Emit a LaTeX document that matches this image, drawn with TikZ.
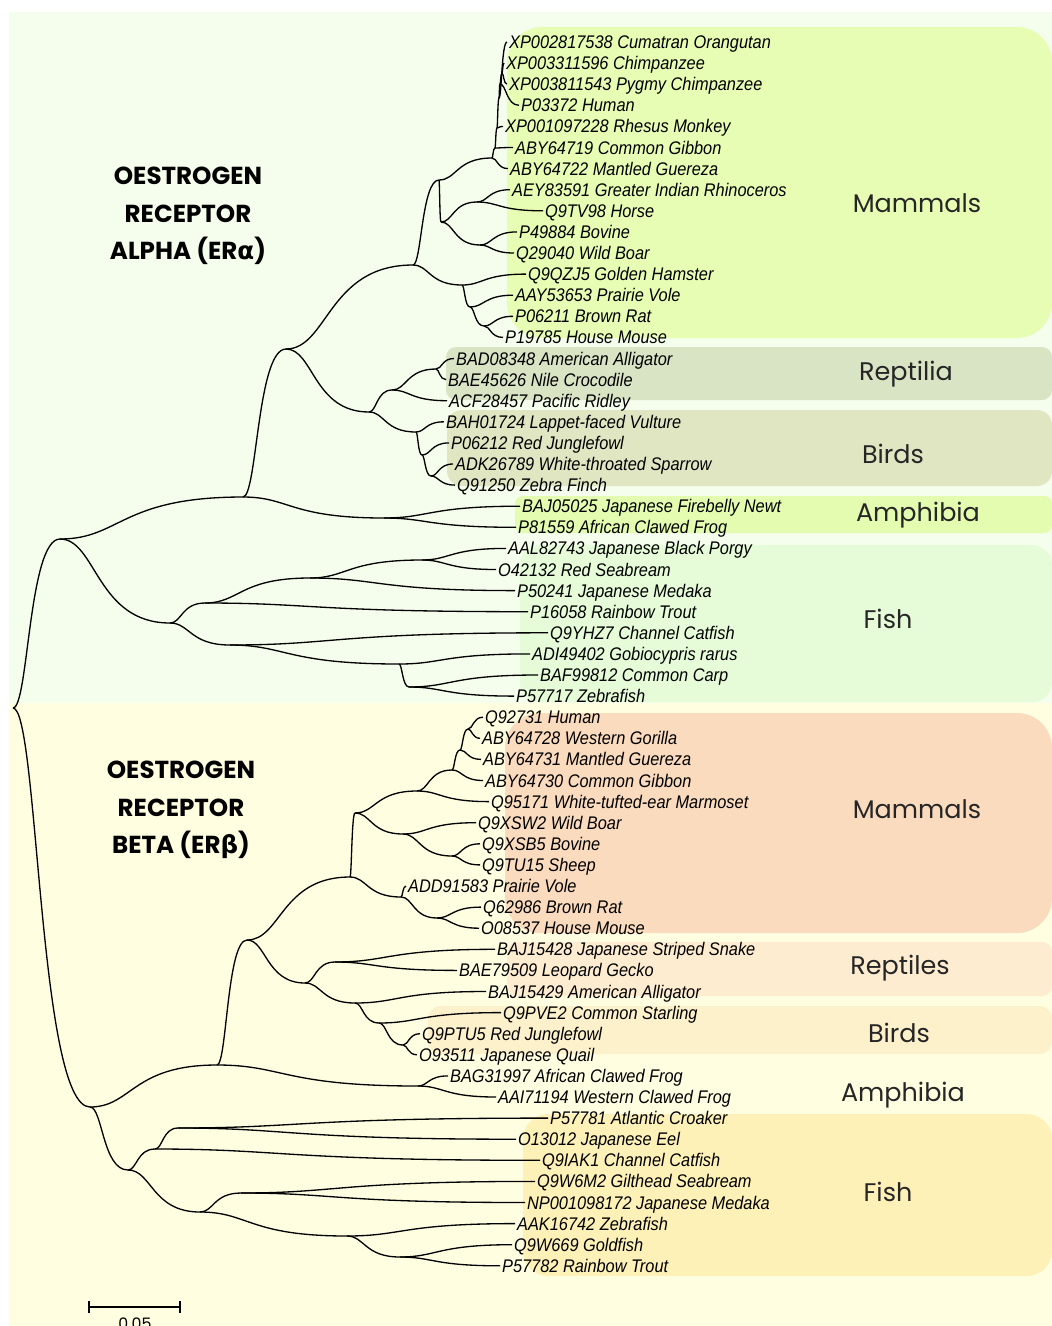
\documentclass[tikz,border=0pt]{standalone}
\usepackage{fontspec}
\usepackage{tikz}
\usetikzlibrary{calc}
\newfontfamily\leaffont[FakeStretch=0.895]{Liberation Sans}
\newfontfamily\groupfont{Poppins}
\newfontfamily\greekfont{DejaVu Sans}
\definecolor{panelalpha}{HTML}{F5FEEC}
\definecolor{panelbeta}{HTML}{FFFEE0}
\definecolor{mammalsA}{HTML}{E8FDB4}
\definecolor{reptiliaA}{HTML}{D8E4C4}
\definecolor{birdsA}{HTML}{E0E6C2}
\definecolor{amphibiaA}{HTML}{E4FCB0}
\definecolor{fishA}{HTML}{E6FCD8}
\definecolor{mammalsB}{HTML}{FADBBE}
\definecolor{reptilesB}{HTML}{FDECD0}
\definecolor{birdsB}{HTML}{FDF1CC}
\definecolor{fishB}{HTML}{FDF1B8}
\pgfdeclarelayer{boxlayer}
\pgfdeclarelayer{edgelayer}
\pgfdeclarelayer{nodelayer}
\pgfsetlayers{boxlayer,edgelayer,nodelayer,main}
\tikzstyle{none}=[inner sep=0pt]
\tikzstyle{edge}=[draw=black, line width=0.75pt]
\tikzstyle{leaf}=[anchor=west, inner sep=1pt, text height=7.4pt, text depth=0pt, font=\leaffont\itshape\fontsize{10.4}{11}\selectfont]
\tikzstyle{group}=[text=black!85, font=\groupfont\fontsize{14.5}{16}\selectfont]
\tikzstyle{title}=[align=center, font=\groupfont\bfseries\fontsize{14}{21.5}\selectfont]

\begin{document}
\begin{tikzpicture}[x=0.02cm, y=-0.02cm,
	every to/.style={to path={let \p1=(\tikztostart), \p2=(\tikztotarget) in
		.. controls ({\x1+0.33*(\x2-\x1)},\y1) and ({\x1+0.33*(\x2-\x1)},\y2) .. (\tikztotarget)}}]
	\useasboundingbox (0,0) rectangle (1052,1326);
	\begin{pgfonlayer}{boxlayer}
		\fill [panelalpha] (9,12) rectangle (1052,703);
		\fill [panelbeta] (9,703) rectangle (1052,1326);
		\fill [mammalsA, rounded corners=0.7cm] (507,27) rectangle (1052,338);
		\fill [reptiliaA, rounded corners=0.2cm] (446,347) rectangle (1052,400);
		\fill [birdsA, rounded corners=0.3cm] (447,410) rectangle (1052,486);
		\fill [amphibiaA, rounded corners=0.15cm] (515,496) rectangle (1052,533);
		\fill [fishA, rounded corners=0.4cm] (520,545) rectangle (1052,702);
		\fill [mammalsB, rounded corners=0.7cm] (505,713) rectangle (1052,933);
		\fill [reptilesB, rounded corners=0.2cm] (507,942) rectangle (1052,996);
		\fill [birdsB, rounded corners=0.25cm] (428,1006) rectangle (1052,1054);
		\fill [fishB, rounded corners=0.5cm] (523,1114) rectangle (1052,1276);
	\end{pgfonlayer}
	\begin{pgfonlayer}{nodelayer}
		% leaves, ER alpha
		\node [style=leaf] (1) at (507, 42.0) {XP002817538 Cumatran Orangutan};
		\node [style=leaf] (2) at (504, 63.1) {XP003311596 Chimpanzee};
		\node [style=leaf] (3) at (507, 84.2) {XP003811543 Pygmy Chimpanzee};
		\node [style=leaf] (4) at (519, 105.3) {P03372 Human};
		\node [style=leaf] (5) at (503, 126.4) {XP001097228 Rhesus Monkey};
		\node [style=leaf] (6) at (513, 147.5) {ABY64719 Common Gibbon};
		\node [style=leaf] (7) at (508, 168.6) {ABY64722 Mantled Guereza};
		\node [style=leaf] (8) at (510, 189.7) {AEY83591 Greater Indian Rhinoceros};
		\node [style=leaf] (9) at (543, 210.8) {Q9TV98 Horse};
		\node [style=leaf] (10) at (517, 231.9) {P49884 Bovine};
		\node [style=leaf] (11) at (514, 253.0) {Q29040 Wild Boar};
		\node [style=leaf] (12) at (526, 274.1) {Q9QZJ5 Golden Hamster};
		\node [style=leaf] (13) at (513, 295.2) {AAY53653 Prairie Vole};
		\node [style=leaf] (14) at (513, 316.3) {P06211 Brown Rat};
		\node [style=leaf] (15) at (503, 337.4) {P19785 House Mouse};
		\node [style=leaf] (16) at (454, 358.5) {BAD08348 American Alligator};
		\node [style=leaf] (17) at (446, 379.6) {BAE45626 Nile Crocodile};
		\node [style=leaf] (18) at (447, 400.7) {ACF28457 Pacific Ridley};
		\node [style=leaf] (19) at (444, 421.8) {BAH01724 Lappet-faced Vulture};
		\node [style=leaf] (20) at (449, 442.9) {P06212 Red Junglefowl};
		\node [style=leaf] (21) at (453, 464.0) {ADK26789 White-throated Sparrow};
		\node [style=leaf] (22) at (455, 485.1) {Q91250 Zebra Finch};
		\node [style=leaf] (23) at (520, 506.2) {BAJ05025 Japanese Firebelly Newt};
		\node [style=leaf] (24) at (516, 527.3) {P81559 African Clawed Frog};
		\node [style=leaf] (25) at (506, 548.4) {AAL82743 Japanese Black Porgy};
		\node [style=leaf] (26) at (496, 569.5) {O42132 Red Seabream};
		\node [style=leaf] (27) at (515, 590.6) {P50241 Japanese Medaka};
		\node [style=leaf] (28) at (528, 611.7) {P16058 Rainbow Trout};
		\node [style=leaf] (29) at (548, 632.8) {Q9YHZ7 Channel Catfish};
		\node [style=leaf] (30) at (530, 653.9) {ADI49402 Gobiocypris rarus};
		\node [style=leaf] (31) at (538, 675.0) {BAF99812 Common Carp};
		\node [style=leaf] (32) at (514, 696.1) {P57717 Zebrafish};
		% leaves, ER beta
		\node [style=leaf] (33) at (483, 717.2) {Q92731 Human};
		\node [style=leaf] (34) at (480, 738.3) {ABY64728 Western Gorilla};
		\node [style=leaf] (35) at (481, 759.4) {ABY64731 Mantled Guereza};
		\node [style=leaf] (36) at (483, 780.5) {ABY64730 Common Gibbon};
		\node [style=leaf] (37) at (489, 801.6) {Q95171 White-tufted-ear Marmoset};
		\node [style=leaf] (38) at (476, 822.7) {Q9XSW2 Wild Boar};
		\node [style=leaf] (39) at (480, 843.8) {Q9XSB5 Bovine};
		\node [style=leaf] (40) at (480, 864.9) {Q9TU15 Sheep};
		\node [style=leaf] (41) at (406, 886.0) {ADD91583 Prairie Vole};
		\node [style=leaf] (42) at (481, 907.1) {Q62986 Brown Rat};
		\node [style=leaf] (43) at (479, 928.2) {O08537 House Mouse};
		\node [style=leaf] (44) at (495, 949.3) {BAJ15428 Japanese Striped Snake};
		\node [style=leaf] (45) at (457, 970.4) {BAE79509 Leopard Gecko};
		\node [style=leaf] (46) at (486, 991.5) {BAJ15429 American Alligator};
		\node [style=leaf] (47) at (501, 1012.6) {Q9PVE2 Common Starling};
		\node [style=leaf] (48) at (420, 1033.7) {Q9PTU5 Red Junglefowl};
		\node [style=leaf] (49) at (417, 1054.8) {O93511 Japanese Quail};
		\node [style=leaf] (50) at (448, 1075.9) {BAG31997 African Clawed Frog};
		\node [style=leaf] (51) at (496, 1097.0) {AAI71194 Western Clawed Frog};
		\node [style=leaf] (52) at (548, 1118.1) {P57781 Atlantic Croaker};
		\node [style=leaf] (53) at (516, 1139.2) {O13012 Japanese Eel};
		\node [style=leaf] (54) at (540, 1160.3) {Q9IAK1 Channel Catfish};
		\node [style=leaf] (55) at (535, 1181.4) {Q9W6M2 Gilthead Seabream};
		\node [style=leaf] (56) at (525, 1202.5) {NP001098172 Japanese Medaka};
		\node [style=leaf] (57) at (515, 1223.6) {AAK16742 Zebrafish};
		\node [style=leaf] (58) at (512, 1244.7) {Q9W669 Goldfish};
		\node [style=leaf] (59) at (500, 1265.8) {P57782 Rainbow Trout};
		% inner nodes
		\node [style=none] (60) at (13, 708) {};
		\node [style=none] (61) at (60, 539) {};
		\node [style=none] (62) at (243, 497) {};
		\node [style=none] (63) at (286, 349) {};
		\node [style=none] (64) at (413, 265) {};
		\node [style=none] (65) at (439, 180) {};
		\node [style=none] (66) at (492, 158) {};
		\node [style=none] (67) at (495, 148) {};
		\node [style=none] (68) at (497, 128) {};
		\node [style=none] (69) at (499, 98) {};
		\node [style=none] (70) at (500, 84) {};
		\node [style=none] (71) at (502, 73) {};
		\node [style=none] (72) at (441, 222) {};
		\node [style=none] (73) at (477, 202) {};
		\node [style=none] (74) at (480, 245) {};
		\node [style=none] (75) at (462, 285) {};
		\node [style=none] (76) at (470, 307) {};
		\node [style=none] (77) at (484, 326) {};
		\node [style=none] (78) at (369, 412) {};
		\node [style=none] (79) at (392, 390) {};
		\node [style=none] (80) at (436, 369) {};
		\node [style=none] (81) at (416, 432) {};
		\node [style=none] (82) at (422, 455) {};
		\node [style=none] (83) at (431, 476) {};
		\node [style=none] (84) at (384, 518) {};
		\node [style=none] (85) at (170, 623) {};
		\node [style=none] (86) at (205, 603) {};
		\node [style=none] (87) at (310, 578) {};
		\node [style=none] (88) at (422, 560) {};
		\node [style=none] (89) at (230, 645) {};
		\node [style=none] (90) at (399, 664) {};
		\node [style=none] (91) at (409, 687) {};
		\node [style=none] (92) at (90, 1107) {};
		\node [style=none] (93) at (217, 1065) {};
		\node [style=none] (94) at (128, 1170) {};
		\node [style=none] (95) at (247, 940) {};
		\node [style=none] (96) at (418, 1086) {};
		\node [style=none] (97) at (350, 877) {};
		\node [style=none] (98) at (305, 983) {};
		\node [style=none] (99) at (355, 813) {};
		\node [style=none] (100) at (401, 897) {};
		\node [style=none] (101) at (437, 918) {};
		\node [style=none] (102) at (417, 791) {};
		\node [style=none] (103) at (403, 834) {};
		\node [style=none] (104) at (452, 856) {};
		\node [style=none] (105) at (452, 770) {};
		\node [style=none] (106) at (460, 750) {};
		\node [style=none] (107) at (468, 729) {};
		\node [style=none] (108) at (335, 962) {};
		\node [style=none] (109) at (355, 1003) {};
		\node [style=none] (110) at (379, 1023) {};
		\node [style=none] (111) at (403, 1045) {};
		\node [style=none] (112) at (155, 1149) {};
		\node [style=none] (113) at (178, 1128) {};
		\node [style=none] (114) at (200, 1212) {};
		\node [style=none] (115) at (241, 1193) {};
		\node [style=none] (116) at (347, 1236) {};
		\node [style=none] (117) at (400, 1257) {};
		% group names and titles
		\node [style=group] (mamA) at (917, 203) {Mammals};
		\node [style=group] (repA) at (906, 374) {Reptilia};
		\node [style=group] (birA) at (893, 454) {Birds};
		\node [style=group] (ampA) at (918, 515) {Amphibia};
		\node [style=group] (fisA) at (888, 619) {Fish};
		\node [style=group] (mamB) at (917, 809) {Mammals};
		\node [style=group] (repB) at (900, 968) {Reptiles};
		\node [style=group] (birB) at (899, 1033) {Birds};
		\node [style=group] (ampB) at (903, 1095) {Amphibia};
		\node [style=group] (fisB) at (888, 1192) {Fish};
		\node [style=title] (era) at (188, 216) {OESTROGEN\\RECEPTOR\\ALPHA (ER{\greekfont α})};
		\node [style=title] (erb) at (181, 810) {OESTROGEN\\RECEPTOR\\BETA (ER{\greekfont β})};
		% scale bar
		\node [style=none] (sb1) at (89, 1307) {};
		\node [style=none] (sb2) at (180, 1307) {};
		\node [anchor=north, inner sep=0pt, font=\groupfont\fontsize{9}{10}\selectfont] (sbl) at (135, 1318) {0.05};
	\end{pgfonlayer}
	\begin{pgfonlayer}{edgelayer}
		\draw [style=edge] (60.center) to (61.center);
		\draw [style=edge] (60.center) to (92.center);
		\draw [style=edge] (61.center) to (62.center);
		\draw [style=edge] (61.center) to (85.center);
		\draw [style=edge] (62.center) to (63.center);
		\draw [style=edge] (62.center) to (84.center);
		\draw [style=edge] (63.center) to (64.center);
		\draw [style=edge] (63.center) to (78.center);
		\draw [style=edge] (64.center) to (65.center);
		\draw [style=edge] (64.center) to (75.center);
		\draw [style=edge] (65.center) to (66.center);
		\draw [style=edge] (65.center) to (72.center);
		\draw [style=edge] (66.center) to (7.west);
		\draw [style=edge] (66.center) to (67.center);
		\draw [style=edge] (67.center) to (6.west);
		\draw [style=edge] (67.center) to (68.center);
		\draw [style=edge] (68.center) to (5.west);
		\draw [style=edge] (68.center) to (69.center);
		\draw [style=edge] (69.center) to (1.west);
		\draw [style=edge] (69.center) to (70.center);
		\draw [style=edge] (70.center) to (4.west);
		\draw [style=edge] (70.center) to (71.center);
		\draw [style=edge] (71.center) to (2.west);
		\draw [style=edge] (71.center) to (3.west);
		\draw [style=edge] (72.center) to (73.center);
		\draw [style=edge] (72.center) to (74.center);
		\draw [style=edge] (73.center) to (8.west);
		\draw [style=edge] (73.center) to (9.west);
		\draw [style=edge] (74.center) to (10.west);
		\draw [style=edge] (74.center) to (11.west);
		\draw [style=edge] (75.center) to (12.west);
		\draw [style=edge] (75.center) to (76.center);
		\draw [style=edge] (76.center) to (13.west);
		\draw [style=edge] (76.center) to (77.center);
		\draw [style=edge] (77.center) to (14.west);
		\draw [style=edge] (77.center) to (15.west);
		\draw [style=edge] (78.center) to (79.center);
		\draw [style=edge] (78.center) to (81.center);
		\draw [style=edge] (79.center) to (80.center);
		\draw [style=edge] (79.center) to (18.west);
		\draw [style=edge] (80.center) to (16.west);
		\draw [style=edge] (80.center) to (17.west);
		\draw [style=edge] (81.center) to (19.west);
		\draw [style=edge] (81.center) to (82.center);
		\draw [style=edge] (82.center) to (20.west);
		\draw [style=edge] (82.center) to (83.center);
		\draw [style=edge] (83.center) to (21.west);
		\draw [style=edge] (83.center) to (22.west);
		\draw [style=edge] (84.center) to (23.west);
		\draw [style=edge] (84.center) to (24.west);
		\draw [style=edge] (85.center) to (86.center);
		\draw [style=edge] (85.center) to (89.center);
		\draw [style=edge] (86.center) to (87.center);
		\draw [style=edge] (86.center) to (28.west);
		\draw [style=edge] (87.center) to (88.center);
		\draw [style=edge] (87.center) to (27.west);
		\draw [style=edge] (88.center) to (25.west);
		\draw [style=edge] (88.center) to (26.west);
		\draw [style=edge] (89.center) to (29.west);
		\draw [style=edge] (89.center) to (90.center);
		\draw [style=edge] (90.center) to (30.west);
		\draw [style=edge] (90.center) to (91.center);
		\draw [style=edge] (91.center) to (31.west);
		\draw [style=edge] (91.center) to (32.west);
		\draw [style=edge] (92.center) to (93.center);
		\draw [style=edge] (92.center) to (94.center);
		\draw [style=edge] (93.center) to (95.center);
		\draw [style=edge] (93.center) to (96.center);
		\draw [style=edge] (96.center) to (50.west);
		\draw [style=edge] (96.center) to (51.west);
		\draw [style=edge] (95.center) to (97.center);
		\draw [style=edge] (95.center) to (98.center);
		\draw [style=edge] (97.center) to (99.center);
		\draw [style=edge] (97.center) to (100.center);
		\draw [style=edge] (100.center) to (41.west);
		\draw [style=edge] (100.center) to (101.center);
		\draw [style=edge] (101.center) to (42.west);
		\draw [style=edge] (101.center) to (43.west);
		\draw [style=edge] (99.center) to (102.center);
		\draw [style=edge] (99.center) to (103.center);
		\draw [style=edge] (103.center) to (38.west);
		\draw [style=edge] (103.center) to (104.center);
		\draw [style=edge] (104.center) to (39.west);
		\draw [style=edge] (104.center) to (40.west);
		\draw [style=edge] (102.center) to (105.center);
		\draw [style=edge] (102.center) to (37.west);
		\draw [style=edge] (105.center) to (106.center);
		\draw [style=edge] (105.center) to (36.west);
		\draw [style=edge] (106.center) to (107.center);
		\draw [style=edge] (106.center) to (35.west);
		\draw [style=edge] (107.center) to (33.west);
		\draw [style=edge] (107.center) to (34.west);
		\draw [style=edge] (98.center) to (108.center);
		\draw [style=edge] (98.center) to (109.center);
		\draw [style=edge] (108.center) to (44.west);
		\draw [style=edge] (108.center) to (45.west);
		\draw [style=edge] (109.center) to (46.west);
		\draw [style=edge] (109.center) to (110.center);
		\draw [style=edge] (110.center) to (47.west);
		\draw [style=edge] (110.center) to (111.center);
		\draw [style=edge] (111.center) to (48.west);
		\draw [style=edge] (111.center) to (49.west);
		\draw [style=edge] (94.center) to (112.center);
		\draw [style=edge] (94.center) to (114.center);
		\draw [style=edge] (112.center) to (113.center);
		\draw [style=edge] (112.center) to (54.west);
		\draw [style=edge] (113.center) to (52.west);
		\draw [style=edge] (113.center) to (53.west);
		\draw [style=edge] (114.center) to (115.center);
		\draw [style=edge] (114.center) to (116.center);
		\draw [style=edge] (115.center) to (55.west);
		\draw [style=edge] (115.center) to (56.west);
		\draw [style=edge] (116.center) to (57.west);
		\draw [style=edge] (116.center) to (117.center);
		\draw [style=edge] (117.center) to (58.west);
		\draw [style=edge] (117.center) to (59.west);
		% scale bar
		\draw [line width=1.6pt] (sb1.center) -- (sb2.center);
		\draw [line width=1.2pt] (sb1.center) +(0,-6) -- +(0,6);
		\draw [line width=1.2pt] (sb2.center) +(0,-6) -- +(0,6);
	\end{pgfonlayer}
\end{tikzpicture}
\end{document}
